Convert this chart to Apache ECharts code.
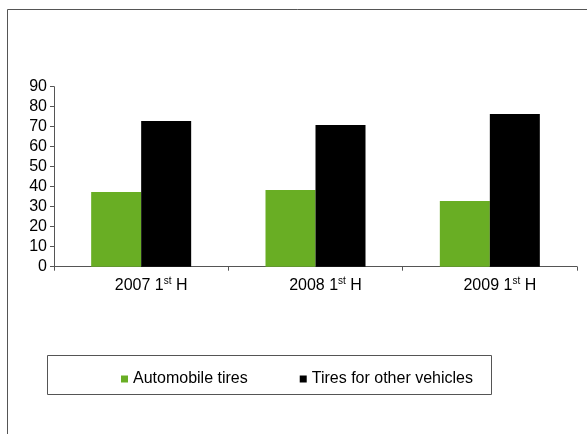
<!DOCTYPE html>
<html>
<head>
<meta charset="utf-8">
<script src="https://cdn.jsdelivr.net/npm/echarts@6/dist/echarts.min.js"></script>
<style>
  html, body { margin: 0; padding: 0; background: #fff; }
  #chart { width: 587px; height: 434px; }
</style>
</head>
<body>
<div id="chart"></div>
<script>
// Tire production by half-year
const years = ['2007', '2008', '2009'];
const automobileTires = [37.3, 38.3, 32.8];
const otherVehicleTires = [72.8, 70.8, 76.3];
const seriesNames = ['Automobile tires', 'Tires for other vehicles'];
const yTicks = [0, 10, 20, 30, 40, 50, 60, 70, 80, 90];

const font = 'Liberation Sans, Arial, sans-serif';
const chart = echarts.init(document.getElementById('chart'));

chart.setOption({
  animation: false,
  backgroundColor: '#fff',
  grid: { left: 54, right: 10, top: 86.7, height: 180, containLabel: false },
  xAxis: {
    type: 'category',
    data: years,
    axisLine: { lineStyle: { color: '#555', width: 1 } },
    axisTick: { show: true, length: 4, lineStyle: { color: '#555' } },
    axisLabel: {
      margin: 10,
      padding: [0, 0, 0, 20],
      formatter: v => '{n|' + v + ' 1}{s|st}{n| H}',
      rich: {
        n: { fontFamily: font, fontSize: 16, color: '#000', lineHeight: 18 },
        s: { fontFamily: font, fontSize: 10, color: '#000', verticalAlign: 'top', lineHeight: 18, padding: [0, 0, 7, 0] }
      }
    }
  },
  yAxis: {
    type: 'value',
    min: yTicks[0],
    max: yTicks[yTicks.length - 1],
    interval: 10,
    splitLine: { show: false },
    axisLine: { show: true, lineStyle: { color: '#555', width: 1 } },
    axisTick: { show: true, length: 4, lineStyle: { color: '#555' } },
    axisLabel: { fontFamily: font, fontSize: 16, color: '#000', margin: 7 }
  },
  legend: {
    left: 121,
    top: 371,
    padding: 0,
    itemWidth: 7,
    itemHeight: 7,
    itemGap: 52,
    icon: 'rect',
    textStyle: { fontFamily: font, fontSize: 16, color: '#000', padding: [0, 0, 0, 0] },
    data: seriesNames
  },
  series: [
    {
      name: seriesNames[0],
      type: 'bar',
      data: automobileTires,
      barWidth: 50,
      barGap: '0%',
      itemStyle: { color: '#69ae24' }
    },
    {
      name: seriesNames[1],
      type: 'bar',
      data: otherVehicleTires,
      barWidth: 50,
      barGap: '0%',
      itemStyle: { color: '#000' }
    }
  ],
  graphic: [
    {
      type: 'rect',
      silent: true,
      z: -1,
      shape: { x: 7.5, y: 9.5, width: 600, height: 440 },
      style: { fill: 'none', stroke: '#555', lineWidth: 1 }
    },
    {
      type: 'rect',
      silent: true,
      z: -1,
      shape: { x: 47.5, y: 355.5, width: 444, height: 39 },
      style: { fill: '#fff', stroke: '#555', lineWidth: 1 }
    }
  ]
});
</script>
</body>
</html>
